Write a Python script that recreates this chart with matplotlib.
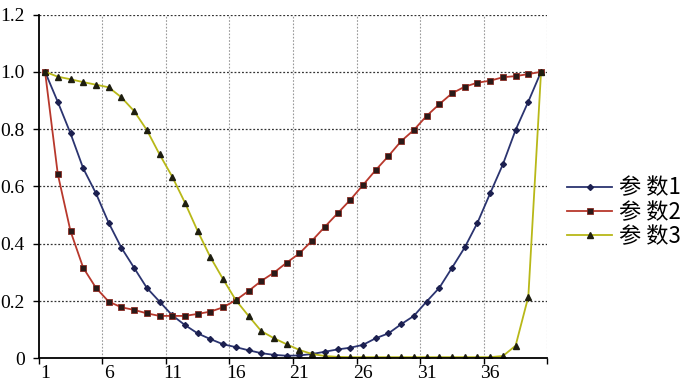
import matplotlib.pyplot as plt
import numpy as np

# data (40 points, x = 1..40)
x = np.arange(1, 41)
param1 = [1.0, 0.895, 0.785, 0.663, 0.576, 0.473, 0.386, 0.316, 0.246, 0.198,
          0.150, 0.116, 0.087, 0.067, 0.049, 0.039, 0.028, 0.018, 0.012, 0.009,
          0.010, 0.015, 0.023, 0.031, 0.037, 0.047, 0.070, 0.087, 0.119, 0.148,
          0.198, 0.246, 0.316, 0.387, 0.473, 0.576, 0.677, 0.797, 0.896, 1.0]
param2 = [1.0, 0.643, 0.444, 0.316, 0.246, 0.198, 0.178, 0.169, 0.157, 0.148,
          0.148, 0.148, 0.155, 0.163, 0.178, 0.203, 0.235, 0.270, 0.299, 0.334,
          0.366, 0.411, 0.459, 0.506, 0.553, 0.605, 0.657, 0.706, 0.758, 0.797,
          0.846, 0.887, 0.925, 0.948, 0.962, 0.969, 0.981, 0.985, 0.992, 1.0]
param3 = [1.0, 0.983, 0.974, 0.964, 0.955, 0.946, 0.911, 0.863, 0.797, 0.712,
          0.634, 0.543, 0.444, 0.353, 0.276, 0.203, 0.148, 0.095, 0.070, 0.049,
          0.029, 0.015, 0.008, 0.005, 0.004, 0.004, 0.004, 0.004, 0.004, 0.004,
          0.004, 0.004, 0.004, 0.004, 0.004, 0.004, 0.008, 0.044, 0.215, 1.0]
labels = ['参 数1', '参 数2', '参 数3']
xtick_labels = ['1', '6', '11', '16', '21', '26', '31', '36']
ytick_labels = ['0', '0.2', '0.4', '0.6', '0.8', '1.0', '1.2']

serif = ['Liberation Serif', 'DejaVu Serif']

fig = plt.figure(figsize=(7, 3.89), dpi=100)
ax = fig.add_axes([0.0553, 0.0789, 0.7267, 0.8838])

ax.plot(x, param1, '-D', color='#2b3470', lw=1.3, ms=3,
        mfc='#1c2050', mec='#1c2050', label=labels[0])
ax.plot(x, param2, '-s', color='#b8382c', lw=1.3, ms=4.5,
        mfc='#2a1a18', mec='#8a2a22', mew=0.6, label=labels[1])
ax.plot(x, param3, '-^', color='#b8b818', lw=1.3, ms=4,
        mfc='#1e1e10', mec='#1e1e10', label=labels[2])

ax.set_xlim(0.5, 40.5)
ax.set_ylim(0, 1.2)

# gridlines: horizontal dark dotted, vertical light dotted at category bounds
bounds = np.arange(5.5, 41, 5)
for b in bounds:
    ax.axvline(b, color='#999999', lw=0.8, ls=(0, (1.5, 1.5)), zorder=0)
for yv in np.arange(0.2, 1.21, 0.2):
    ax.axhline(yv, color='#333333', lw=0.9, ls=(0, (1.5, 1.5)), zorder=0)

ax.set_xticks(np.concatenate([[0.5], bounds]))
ax.set_xticklabels([])
ax.set_xticks(np.arange(1, 40, 5), minor=True)
ax.set_xticklabels(xtick_labels, minor=True, fontfamily=serif, fontsize=14)
ax.tick_params(axis='x', which='minor', length=0, pad=5)
ax.tick_params(axis='x', which='major', length=4, width=1, direction='out')

ax.set_yticks(np.arange(0, 1.21, 0.2))
ax.set_yticklabels(ytick_labels, fontfamily=serif, fontsize=14)
ax.tick_params(axis='y', length=4, width=1, direction='out', pad=6)

ax.spines['top'].set_visible(False)
ax.spines['right'].set_visible(False)
ax.spines['left'].set_linewidth(1.3)
ax.spines['bottom'].set_linewidth(1.3)

leg = ax.legend(loc='center left', bbox_to_anchor=(1.0, 0.425), frameon=False,
                prop={'family': ['Noto Sans CJK SC', 'DejaVu Sans'], 'size': 16},
                handlelength=2.0, handletextpad=0.3, labelspacing=0.05)

fig.savefig('out.png', dpi=100)
